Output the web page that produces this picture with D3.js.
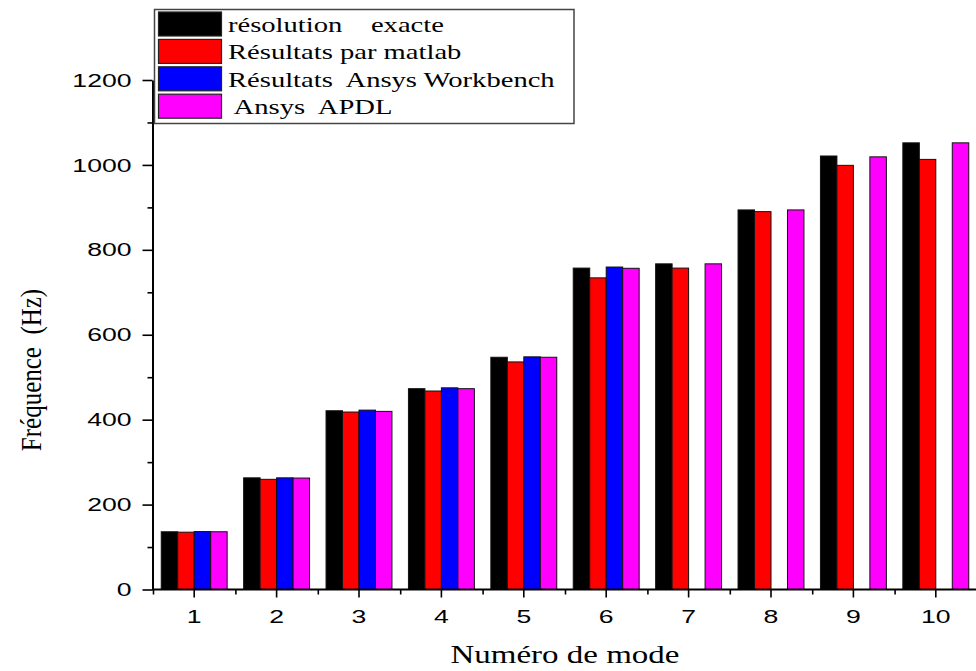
<!DOCTYPE html>
<html>
<head>
<meta charset="utf-8">
<script src="https://cdn.jsdelivr.net/npm/d3@7"></script>
<style>
  html, body { margin: 0; padding: 0; background: #fff; }
  svg { display: block; }
  text.pre { white-space: pre; }
</style>
</head>
<body>
<svg id="chart" width="976" height="671"></svg>
<script>
// Mode numbers and natural frequencies (Hz) per method
const modes = [1, 2, 3, 4, 5, 6, 7, 8, 9, 10];
const exacte    = [136, 263, 421, 473, 547, 757, 767, 894, 1021, 1052];
const matlab    = [135, 259.5, 418, 467.5, 536, 734, 757, 890, 999, 1013];
const workbench = [136.5, 263, 422.5, 475, 548, 759.5, null, null, null, null];
const apdl      = [136, 262.5, 419.5, 473, 547, 756.5, 767, 894, 1019, 1052];

const seriesNames = ["résolution    exacte", "Résultats par matlab", "Résultats  Ansys Workbench", " Ansys  APDL"];
const seriesColors = ["#000000", "#ff0000", "#0000ff", "#ff00ff"];
const seriesValues = [exacte, matlab, workbench, apdl];

const yMajorTicks = [0, 200, 400, 600, 800, 1000, 1200];
const yMinorTicks = [100, 300, 500, 700, 900, 1100];

const svg = d3.select("#chart");

const x0 = 153, x1 = 977, yBottom = 589.5, yTop = 80;

const x = d3.scaleBand().domain(modes).range([x0, x1]).paddingInner(0.2).paddingOuter(0.1);
const xSub = d3.scaleBand().domain(d3.range(seriesNames.length)).range([0, x.bandwidth()]);
const xLin = d3.scaleLinear().domain([0.5, 10.5]).range([x0, x1]);
const y = d3.scaleLinear().domain([0, 1200]).range([yBottom, yTop]);

// group holding horizontally widened text
function stretched(g, tx, ty, sx, extra) {
  return g.append("g").attr("transform", `translate(${tx},${ty}) scale(${sx},1)` + (extra || ""));
}

// Bars
const rows = [];
seriesValues.forEach((vals, s) => {
  vals.forEach((v, i) => { if (v != null) rows.push({ mode: modes[i], s, v }); });
});
svg.append("g").selectAll("rect").data(rows).join("rect")
  .attr("x", d => x(d.mode) + xSub(d.s))
  .attr("width", xSub.bandwidth())
  .attr("y", d => y(d.v))
  .attr("height", d => y(0) - y(d.v))
  .attr("fill", d => seriesColors[d.s])
  .attr("stroke", "#111")
  .attr("stroke-width", 1);

// Y axis
const sxTick = 1.4;
const yAxis = svg.append("g").attr("transform", "translate(152.5,0)")
  .call(d3.axisLeft(y).tickValues(yMajorTicks).tickFormat(d3.format("d"))
    .tickSize(10).tickSizeOuter(0).tickPadding(8));
yAxis.select(".domain").attr("stroke-width", 2);
yAxis.selectAll(".tick line").attr("stroke-width", 1.6);
yAxis.selectAll(".tick text")
  .attr("font-family", "'Liberation Sans', Arial, sans-serif")
  .attr("font-size", 19)
  .attr("fill", "#000")
  .attr("x", -21 / sxTick)
  .attr("transform", `scale(${sxTick},1)`);
const yMinor = svg.append("g").attr("transform", "translate(152.5,0)")
  .call(d3.axisLeft(y).tickValues(yMinorTicks).tickSize(5).tickSizeOuter(0).tickFormat(""));
yMinor.select(".domain").remove();
yMinor.selectAll(".tick line").attr("stroke-width", 1.6);

// X axis
const xAxis = svg.append("g").attr("transform", `translate(0,${yBottom})`)
  .call(d3.axisBottom(x).tickSize(8).tickSizeOuter(0).tickPadding(12));
xAxis.select(".domain").attr("stroke-width", 2).attr("d", `M${x0 - 1},0H${x1}`);
xAxis.selectAll(".tick line").attr("stroke-width", 1.6);
xAxis.selectAll(".tick text")
  .attr("font-family", "'Liberation Sans', Arial, sans-serif")
  .attr("font-size", 19)
  .attr("fill", "#000")
  .attr("transform", `scale(${sxTick},1)`);
const xMinor = svg.append("g").attr("transform", `translate(0,${yBottom})`)
  .call(d3.axisBottom(xLin).tickValues(d3.range(0.5, 11, 1)).tickSize(5).tickSizeOuter(0).tickFormat(""));
xMinor.select(".domain").remove();
xMinor.selectAll(".tick line").attr("stroke-width", 1.6);

// Axis titles
stretched(svg, (x0 + x1) / 2, 663, 1.32).append("text")
  .attr("text-anchor", "middle")
  .attr("font-family", "'Liberation Serif', 'Times New Roman', serif")
  .attr("font-size", 25)
  .text("Numéro de mode");

stretched(svg, 41, 370, 1.22, " rotate(-90)").append("text")
  .attr("class", "pre")
  .attr("text-anchor", "middle")
  .attr("font-family", "'Liberation Serif', 'Times New Roman', serif")
  .attr("font-size", 25)
  .text("Fréquence  (Hz)");

// Legend
const legend = svg.append("g");
legend.append("rect")
  .attr("x", 154.5).attr("y", 9.5).attr("width", 419.5).attr("height", 114)
  .attr("fill", "#fff").attr("stroke", "#444").attr("stroke-width", 1.5);
seriesNames.forEach((name, i) => {
  const top = 12 + i * 27.4;
  legend.append("rect")
    .attr("x", 158.5).attr("y", top).attr("width", 63).attr("height", 24)
    .attr("fill", seriesColors[i]).attr("stroke", "#222").attr("stroke-width", 1.2);
  stretched(legend, 228, top + 20, 1.3).append("text")
    .attr("class", "pre")
    .attr("font-family", "'Liberation Serif', 'Times New Roman', serif")
    .attr("font-size", 22)
    .text(name);
});
</script>
</body>
</html>
